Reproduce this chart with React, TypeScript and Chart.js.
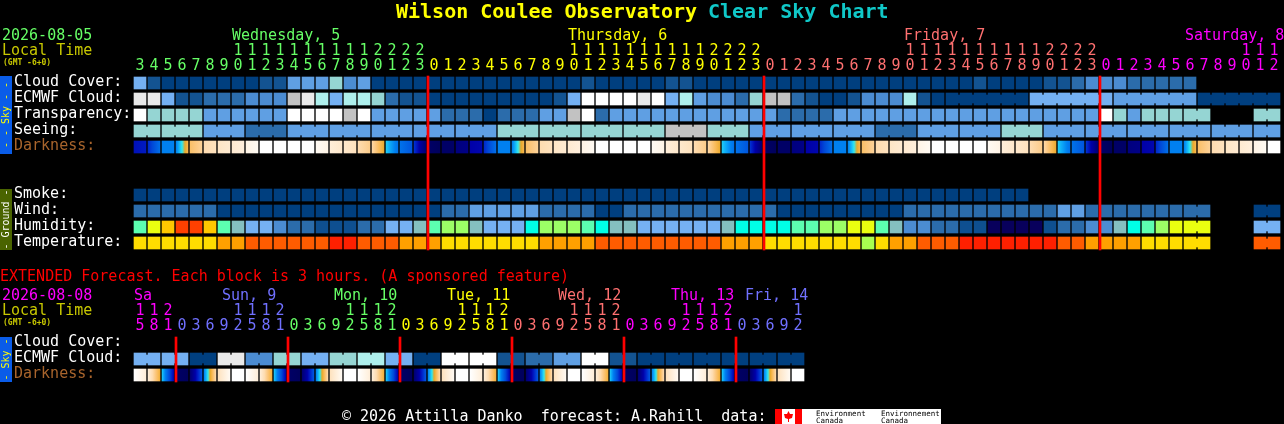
import { useEffect, useRef } from "react";
import { Chart, registerables } from "chart.js";
import type { Plugin } from "chart.js";

Chart.register(...registerables);

// hours shown over each column
const wedHours = [3, 4, 5, 6, 7, 8, 9, 10, 11, 12, 13, 14, 15, 16, 17, 18, 19, 20, 21, 22, 23];
const thuHours = [0, 1, 2, 3, 4, 5, 6, 7, 8, 9, 10, 11, 12, 13, 14, 15, 16, 17, 18, 19, 20, 21, 22, 23];
const friHours = [0, 1, 2, 3, 4, 5, 6, 7, 8, 9, 10, 11, 12, 13, 14, 15, 16, 17, 18, 19, 20, 21, 22, 23];
const satHours = [0, 1, 2, 3, 4, 5, 6, 7, 8, 9, 10, 11, 12];

const extSat = [15, 18, 21];
const extSun = [0, 3, 6, 9, 12, 15, 18, 21];
const extMon = [0, 3, 6, 9, 12, 15, 18, 21];
const extTue = [0, 3, 6, 9, 12, 15, 18, 21];
const extWed = [0, 3, 6, 9, 12, 15, 18, 21];
const extThu = [0, 3, 6, 9, 12, 15, 18, 21];
const extFri = [0, 3, 6, 9, 12];

// forecast levels, one per column (index in the palettes below)
const cloudCover = [
  5, 1, 0, 0, 0, 0, 0, 0, 0, 1, 1, 4, 4, 4, 6, 3, 4, 0, 0, 0, 0,
  0, 0, 0, 0, 0, 0, 0, 0, 0, 0, 0, 1, 0, 0, 0, 0, 0, 1, 1, 0, 0, 0, 0, 0, 0, 0, 0, 0, 0, 0, 0,
  0, 0, 0, 0, 0, 0, 0, 0, 1, 0, 0, 0, 0, 1, 1, 2, 3, 3, 3, 2, 2, 2, 2, 2,
];
const ecmwfCloud = [
  9, 9, 5, 1, 1, 2, 2, 2, 3, 3, 3, 8, 9, 7, 5, 7, 7, 6, 2, 1, 1,
  0, 0, 0, 0, 0, 0, 0, 0, 0, 1, 5, 10, 10, 10, 10, 9, 10, 5, 7, 4, 3, 3, 2, 6, 8, 8, 2, 1, 0, 0, 1,
  3, 3, 3, 7, 1, 0, 0, 0, 0, 0, 0, 0, 5, 5, 5, 5, 5, 5, 4, 4, 4, 4, 4, 4, 0, 0, 0, 0, 0, 0,
];
const transparency = [
  10, 6, 6, 6, 6, 4, 4, 4, 4, 4, 4, 10, 10, 10, 10, 8, 10, 4, 4, 4, 4,
  4, 2, 2, 2, 0, 2, 2, 2, 4, 4, 8, 10, 2, 4, 4, 4, 4, 4, 4, 4, 4, 4, 4, 4, 4, 2, 2, 2, 2, 4, 4,
  4, 4, 4, 4, 4, 4, 4, 4, 4, 4, 4, 4, 4, 4, 4, 4, 4, 10, 6, 4, 6, 6, 6, 6, 6, null, null, null, 6, 6,
];
const seeing = [
  6, 6, 6, 6, 6, 4, 4, 4, 2, 2, 2, 4, 4, 4, 4, 4, 4, 4, 4, 4, 4,
  4, 4, 4, 4, 4, 6, 6, 6, 6, 6, 6, 6, 6, 6, 6, 6, 6, 8, 8, 8, 6, 6, 6, 4, 4, 4, 4, 4, 4, 4, 4,
  4, 2, 2, 2, 4, 4, 4, 4, 4, 4, 6, 6, 6, 4, 4, 4, 4, 4, 4, 4, 4, 4, 4, 4, 4, 4, 4, 4, 4, 4,
];
const smoke = [
  0, 0, 0, 0, 0, 0, 0, 0, 0, 0, 0, 0, 0, 0, 0, 0, 0, 0, 0, 0, 0,
  0, 0, 0, 0, 0, 0, 0, 0, 0, 0, 0, 0, 0, 0, 0, 0, 0, 0, 0, 0, 0, 0, 0, 0, 0, 0, 0, 0, 0, 0, 0,
  0, 0, 0, 0, 0, 0, 0, 0, 0, 0, 0, 0,
];
const wind = [
  2, 2, 2, 2, 2, 2, 0, 0, 0, 0, 0, 0, 0, 0, 0, 0, 0, 0, 0, 0, 0,
  0, 2, 2, 4, 4, 4, 4, 4, 2, 2, 2, 2, 0, 0, 2, 2, 2, 2, 2, 2, 2, 2, 2, 2, 2, 0, 0, 0, 0, 0, 0,
  0, 0, 0, 2, 2, 2, 2, 2, 2, 2, 2, 2, 2, 2, 4, 4, 2, 2, 2, 2, 2, 2, 2, 2, 2, null, null, null, 0, 0,
];
const humidity = [
  7, 9, 10, 11, 11, 10, 7, 5, 4, 4, 3, 2, 2, 1, 1, 1, 2, 2, 4, 4, 5,
  7, 8, 8, 5, 4, 4, 4, 6, 8, 8, 8, 7, 6, 5, 5, 4, 4, 4, 4, 4, 4, 5, 6, 6, 6, 6, 7, 7, 8, 8, 9,
  9, 7, 5, 3, 3, 2, 2, 1, 1, 0, 0, 0, 0, 1, 2, 2, 3, 3, 5, 6, 7, 8, 9, 9, 9, null, null, null, 4, 4,
];
const temperature = [
  1, 1, 1, 1, 1, 1, 2, 2, 3, 3, 3, 3, 3, 3, 4, 4, 3, 3, 3, 2, 2,
  2, 1, 1, 1, 1, 1, 1, 1, 2, 2, 2, 2, 3, 3, 3, 3, 3, 3, 3, 3, 3, 2, 2, 2, 1, 1, 1, 1, 1, 1, 1,
  0, 1, 2, 2, 3, 3, 3, 4, 4, 4, 4, 4, 4, 4, 3, 3, 2, 2, 2, 2, 1, 1, 1, 1, 1, null, null, null, 3, 3,
];

// darkness is read at the left and right edge of every block (index in darknessRamp)
const darknessStart = [
  3.5, 4.2, 7, 7, 11.5, 13, 13.8, 14.2, 15, 16, 16, 16, 16, 15.5, 14.5, 14, 13, 12.8, 8.5, 6.5, 4.5,
  0.5, 0.5, 1.5, 3, 4.2, 7, 7, 11.5, 13, 13.8, 14.2, 15, 16, 16, 16, 16, 15.5, 14.5, 14, 13, 12.8, 8.5, 6.5, 4.5,
  0.5, 0.5, 1.5, 3, 4.2, 7, 7, 11.5, 13, 13.8, 14.2, 15, 16, 16, 16, 16, 15.5, 14.5, 14, 13, 12.8, 8.5, 6.5, 4.5,
  0.5, 0.5, 1.5, 3, 4.2, 7, 7, 11.5, 13, 13.8, 14.2, 15, 16,
];
const darknessEnd = [
  3.8, 6.4, 7, 11, 12.5, 13.5, 14.2, 14.6, 15.5, 16, 16, 16, 16, 15, 14, 13.5, 12.2, 10.2, 6.5, 5.5, 1,
  0, 0.5, 1.8, 3.2, 6.4, 7, 11, 12.5, 13.5, 14.2, 14.6, 15.5, 16, 16, 16, 16, 15, 14, 13.5, 12.2, 10.2, 6.5, 5.5, 1,
  0, 0.5, 1.8, 3.2, 6.4, 7, 11, 12.5, 13.5, 14.2, 14.6, 15.5, 16, 16, 16, 16, 15, 14, 13.5, 12.2, 10.2, 6.5, 5.5, 1,
  0, 0.5, 1.8, 3.2, 6.4, 7, 11, 12.5, 13.5, 14.2, 14.6, 15.5, 16,
];

// extended forecast, one block is 3 hours
const extEcmwf = [
  5, 5, 5, 5, 0, 0, 9, 9, 3, 3, 6, 6, 5, 5, 6, 6, 7, 7, 5, 5, 0, 0, 10, 10,
  10, 10, 1, 1, 2, 2, 4, 4, 10, 10, 1, 1, 0, 0, 0, 0, 0, 0, 0, 0, 0, 0, 0, 0,
];
const extDarkStart = [
  16, 14.5, 8.5, 0.5, 1, 7, 13.5, 16, 16, 14.5, 8.5, 0.5, 1, 7, 13.5, 16, 16, 14.5, 8.5, 0.5, 1, 7, 13.5, 16,
  16, 14.5, 8.5, 0.5, 1, 7, 13.5, 16, 16, 14.5, 8.5, 0.5, 1, 7, 13.5, 16, 16, 14.5, 8.5, 0.5, 1, 7, 13.5, 16,
];
const extDarkEnd = [
  14.5, 10.5, 3, 0, 5.5, 13, 15.5, 16, 14.5, 10.5, 3, 0, 5.5, 13, 15.5, 16, 14.5, 10.5, 3, 0, 5.5, 13, 15.5, 16,
  14.5, 10.5, 3, 0, 5.5, 13, 15.5, 16, 14.5, 10.5, 3, 0, 5.5, 13, 15.5, 16, 14.5, 10.5, 3, 0, 5.5, 13, 15.5, 16,
];

// runs of columns that belong to one forecast step
const seeingRuns = [
  [0, 1], [2, 4], [5, 7], [8, 10], [11, 13], [14, 16], [17, 19], [20, 22], [23, 25], [26, 28], [29, 31], [32, 34],
  [35, 37], [38, 40], [41, 43], [44, 46], [47, 49], [50, 52], [53, 55], [56, 58], [59, 61], [62, 64], [65, 67],
  [68, 70], [71, 73], [74, 76], [77, 79], [80, 81],
];
const ecmwfRuns = [[58, 63], [64, 69], [70, 75], [76, 81]];
const lateRuns = [[75, 76], [80, 81]];
const extRuns = [
  [0, 1], [2, 3], [4, 5], [6, 7], [8, 9], [10, 11], [12, 13], [14, 15], [16, 17], [18, 19], [20, 21], [22, 23],
  [24, 25], [26, 27], [28, 29], [30, 31], [32, 33], [34, 35], [36, 37], [38, 39], [40, 41], [42, 43], [44, 45], [46, 47],
];

const midnightCols = [21, 45, 69];
const extMidnightCols = [3, 11, 19, 27, 35, 43];

// palettes
const cloudPalette = [
  "#003f7f", "#135391", "#2b6cab", "#4b8cd2", "#5f9fe3", "#74b0f2",
  "#95d5d3", "#aeefec", "#c2c2c2", "#e9e9e9", "#ffffff",
];
const humidityPalette = [
  "#08005c", "#0e4f90", "#2b6cab", "#4b8cd2", "#75b1f2", "#84c0c0",
  "#00ffe6", "#5cffb0", "#9cff66", "#eaff10", "#ffc800", "#ff4000",
];
const temperaturePalette = ["#a8ff50", "#ffdc00", "#ffa000", "#ff5c00", "#ff2000"];
const darknessRamp = [
  "#00005c", "#000070", "#00008c", "#0000a8", "#0020c8", "#0048d8", "#0064e4", "#0080f0", "#10b0f8",
  "#30e8f0", "#e8a828", "#f8b850", "#fcc880", "#fedcb0", "#fee8cc", "#fff4e6", "#ffffff",
];

const GREEN = "#66ff66";
const YELLOW = "#ffff00";
const SALMON = "#ff7070";
const MAGENTA = "#ff00ff";
const PERI = "#7070ff";
const MONO = "'DejaVu Sans Mono', monospace";

// column 0 is centred on x=140, one column is 14px, one y unit is one pixel
const CELL = 14;
const X0 = 140;
const rowH = 12;

const rampColor = (v: number) => {
  const lo = Math.floor(v);
  const hi = Math.min(lo + 1, darknessRamp.length - 1);
  if (lo === hi || v === lo) return darknessRamp[lo];
  const a = parseInt(darknessRamp[lo].slice(1), 16);
  const b = parseInt(darknessRamp[hi].slice(1), 16);
  const t = v - lo;
  const mix = (s: number) =>
    Math.round(((a >> s) & 255) * (1 - t) + ((b >> s) & 255) * t);
  return `rgb(${mix(16)},${mix(8)},${mix(0)})`;
};

const levelRow = (top: number, levels: (number | null)[], palette: string[], runs: number[][] = []) => {
  const cols = levels.flatMap((v, i) => (v === null ? [] : [i]));
  const links = runs.flatMap(([a, b]) => {
    const out: number[] = [];
    for (let c = a; c < b; c++) out.push(c);
    return out;
  });
  return [
    {
      data: cols.map((c) => ({ x: c, y: [top, top + rowH] })),
      backgroundColor: cols.map((c) => palette[levels[c] as number]),
      barThickness: rowH,
    },
    {
      data: links.map((c) => ({ x: c + 0.5, y: [top + 2, top + rowH - 2] })),
      backgroundColor: links.map((c) => palette[levels[c] as number]),
      barThickness: 2,
    },
  ];
};

const darkRow = (top: number, start: number[], end: number[]) => ({
  data: start.map((_, c) => ({ x: c, y: [top, top + rowH] })),
  barThickness: rowH,
  backgroundColor: (ctx: any) => {
    const raw = ctx.raw;
    if (!raw) return "#000";
    const sc = ctx.chart.scales.x;
    const left = sc.getPixelForValue(raw.x) - rowH / 2;
    // the scale has no size yet on the first option pass
    if (!Number.isFinite(left)) return "#000";
    const g = ctx.chart.ctx.createLinearGradient(left, 0, left + rowH, 0);
    const a = start[raw.x];
    const b = end[raw.x];
    g.addColorStop(0, rampColor(a));
    const steps = [];
    for (let v = Math.ceil(Math.min(a, b)); v <= Math.max(a, b); v++) steps.push(v);
    steps.forEach((v) => {
      if (a !== b) g.addColorStop((v - a) / (b - a), rampColor(v));
    });
    g.addColorStop(1, rampColor(b));
    return g;
  },
});

const redLines = (cols: number[], top: number, bottom: number) => ({
  data: cols.map((c) => ({ x: c - 3 / 7, y: [top, bottom] })),
  backgroundColor: "#ff0000",
  barThickness: 2,
});

const hourGroups: [number[], string][] = [
  [wedHours, GREEN], [thuHours, YELLOW], [friHours, SALMON], [satHours, MAGENTA],
];
const extGroups: [number[], string][] = [
  [extSat, MAGENTA], [extSun, PERI], [extMon, GREEN], [extTue, YELLOW], [extWed, SALMON], [extThu, MAGENTA], [extFri, PERI],
];

const textPlugin: Plugin<"bar"> = {
  id: "cscText",
  beforeDraw(chart) {
    const c = chart.ctx;
    c.save();
    c.fillStyle = "#000";
    c.fillRect(0, 0, chart.width, chart.height);
    c.restore();
  },
  afterDraw(chart) {
    const c = chart.ctx;
    const xs = chart.scales.x;
    const put = (t: string, x: number, y: number, col: string, font = `15px ${MONO}`) => {
      c.font = font;
      c.fillStyle = col;
      c.fillText(t, x, y);
    };
    c.save();
    c.textBaseline = "alphabetic";
    c.textAlign = "left";

    put("Wilson Coulee Observatory", 396, 18, YELLOW, `bold 20px ${MONO}`);
    put("Clear Sky Chart", 708, 18, "#10c8c8", `bold 20px ${MONO}`);

    put("2026-08-05", 2, 40, GREEN);
    put("Local Time", 2, 55, "#c8c800");
    put("(GMT -6+0)", 3, 65, "#c8c800", `bold 8px ${MONO}`);
    put("Wednesday, 5", 232, 40, GREEN);
    put("Thursday, 6", 568, 40, YELLOW);
    put("Friday, 7", 904, 40, SALMON);
    put("Saturday, 8", 1185, 40, MAGENTA);

    put("EXTENDED Forecast. Each block is 3 hours. (A sponsored feature)", 0, 281, "#ff0000");
    put("2026-08-08", 2, 300, MAGENTA);
    put("Local Time", 2, 315, "#c8c800");
    put("(GMT -6+0)", 3, 325, "#c8c800", `bold 8px ${MONO}`);
    put("Sa", 134, 300, MAGENTA);
    put("Sun, 9", 222, 300, PERI);
    put("Mon, 10", 334, 300, GREEN);
    put("Tue, 11", 447, 300, YELLOW);
    put("Wed, 12", 558, 300, SALMON);
    put("Thu, 13", 671, 300, MAGENTA);
    put("Fri, 14", 745, 300, PERI);

    const hourText = (groups: [number[], string][], tensY: number, unitsY: number) => {
      let col = 0;
      c.textAlign = "center";
      groups.forEach(([hours, color]) => {
        hours.forEach((h) => {
          const x = xs.getPixelForValue(col);
          if (h >= 10) put(String(Math.floor(h / 10)), x, tensY, color);
          put(String(h % 10), x, unitsY, color);
          col++;
        });
      });
      c.textAlign = "left";
    };
    hourText(hourGroups, 55, 70);
    hourText(extGroups, 315, 330);

    const brown = "#a8642c";
    put("Cloud Cover:", 14, 86, "#fff");
    put("ECMWF Cloud:", 14, 102, "#fff");
    put("Transparency:", 14, 118, "#fff");
    put("Seeing:", 14, 134, "#fff");
    put("Darkness:", 14, 150, brown);
    put("Smoke:", 14, 198, "#fff");
    put("Wind:", 14, 214, "#fff");
    put("Humidity:", 14, 230, "#fff");
    put("Temperature:", 14, 246, "#fff");
    put("Cloud Cover:", 14, 346, "#fff");
    put("ECMWF Cloud:", 14, 362, "#fff");
    put("Darkness:", 14, 378, brown);

    // side strips
    const strip = (top: number, bottom: number, bg: string, fg: string, label: string) => {
      c.fillStyle = bg;
      c.fillRect(0, top, 12, bottom - top);
      c.save();
      c.translate(9, (top + bottom) / 2);
      c.rotate(-Math.PI / 2);
      c.textAlign = "center";
      c.font = `10px ${MONO}`;
      c.fillStyle = fg;
      c.fillText(label, 0, 0);
      c.restore();
    };
    strip(76, 154, "#0a5ce8", "#ffff00", "- - Sky - -");
    strip(189, 250, "#4a6400", "#ffffff", "- Ground -");
    strip(337, 382, "#0a5ce8", "#ffff00", "- Sky -");

    // footer and logo
    put("\u00a9 2026 Attilla Danko  forecast: A.Rahill  data:", 342, 421, "#fff");
    c.fillStyle = "#fff";
    c.fillRect(775, 409, 166, 15);
    c.fillStyle = "#ff0000";
    c.fillRect(775, 409, 7, 15);
    c.fillRect(795, 409, 7, 15);
    c.beginPath();
    c.moveTo(788.5, 411);
    c.lineTo(790, 414);
    c.lineTo(793, 414);
    c.lineTo(792, 418);
    c.lineTo(789, 419);
    c.lineTo(789, 422);
    c.lineTo(788, 422);
    c.lineTo(788, 419);
    c.lineTo(785, 418);
    c.lineTo(784, 414);
    c.lineTo(787, 414);
    c.closePath();
    c.fill();
    put("Environment", 816, 416, "#000", `7.5px ${MONO}`);
    put("Canada", 816, 423, "#000", `7.5px ${MONO}`);
    put("Environnement", 881, 416, "#000", `7.5px ${MONO}`);
    put("Canada", 881, 423, "#000", `7.5px ${MONO}`);
    c.restore();
  },
};

export default function App() {
  const chartRef = useRef<HTMLCanvasElement>(null);
  const chartInstance = useRef<Chart<"bar"> | null>(null);

  useEffect(() => {
    document.body.style.margin = "0";
    document.body.style.background = "#000";
    if (chartRef.current) {
      chartInstance.current?.destroy();

      const datasets: any[] = [
        redLines(midnightCols, 76, 250),
        redLines(extMidnightCols, 337, 382),
        ...levelRow(77, cloudCover, cloudPalette),
        ...levelRow(93, ecmwfCloud, cloudPalette, ecmwfRuns),
        ...levelRow(109, transparency, cloudPalette, lateRuns),
        ...levelRow(125, seeing, cloudPalette, seeingRuns),
        darkRow(141, darknessStart, darknessEnd),
        ...levelRow(189, smoke, cloudPalette),
        ...levelRow(205, wind, cloudPalette, lateRuns),
        ...levelRow(221, humidity, humidityPalette, lateRuns),
        ...levelRow(237, temperature, temperaturePalette, lateRuns),
        ...levelRow(353, extEcmwf, cloudPalette, extRuns),
        darkRow(369, extDarkStart, extDarkEnd),
      ];

      chartInstance.current = new Chart(chartRef.current, {
        type: "bar",
        data: { datasets },
        options: {
          animation: false,
          responsive: false,
          devicePixelRatio: 1,
          events: [],
          layout: { padding: 0 },
          datasets: { bar: { grouped: false, borderSkipped: false, borderWidth: 0 } },
          scales: {
            // the bar default offset would widen the linear scale
            x: { type: "linear", display: false, offset: false, min: -X0 / CELL, max: (1284 - X0) / CELL },
            y: { type: "linear", display: false, reverse: true, min: 0, max: 424 },
          },
          plugins: { legend: { display: false }, tooltip: { enabled: false } },
        },
        plugins: [textPlugin],
      });
    }

    return () => {
      chartInstance.current?.destroy();
    };
  }, []);

  return (
    <div style={{ width: 1284, height: 424, background: "#000" }}>
      <canvas ref={chartRef} width={1284} height={424} style={{ display: "block" }}></canvas>
    </div>
  );
}
